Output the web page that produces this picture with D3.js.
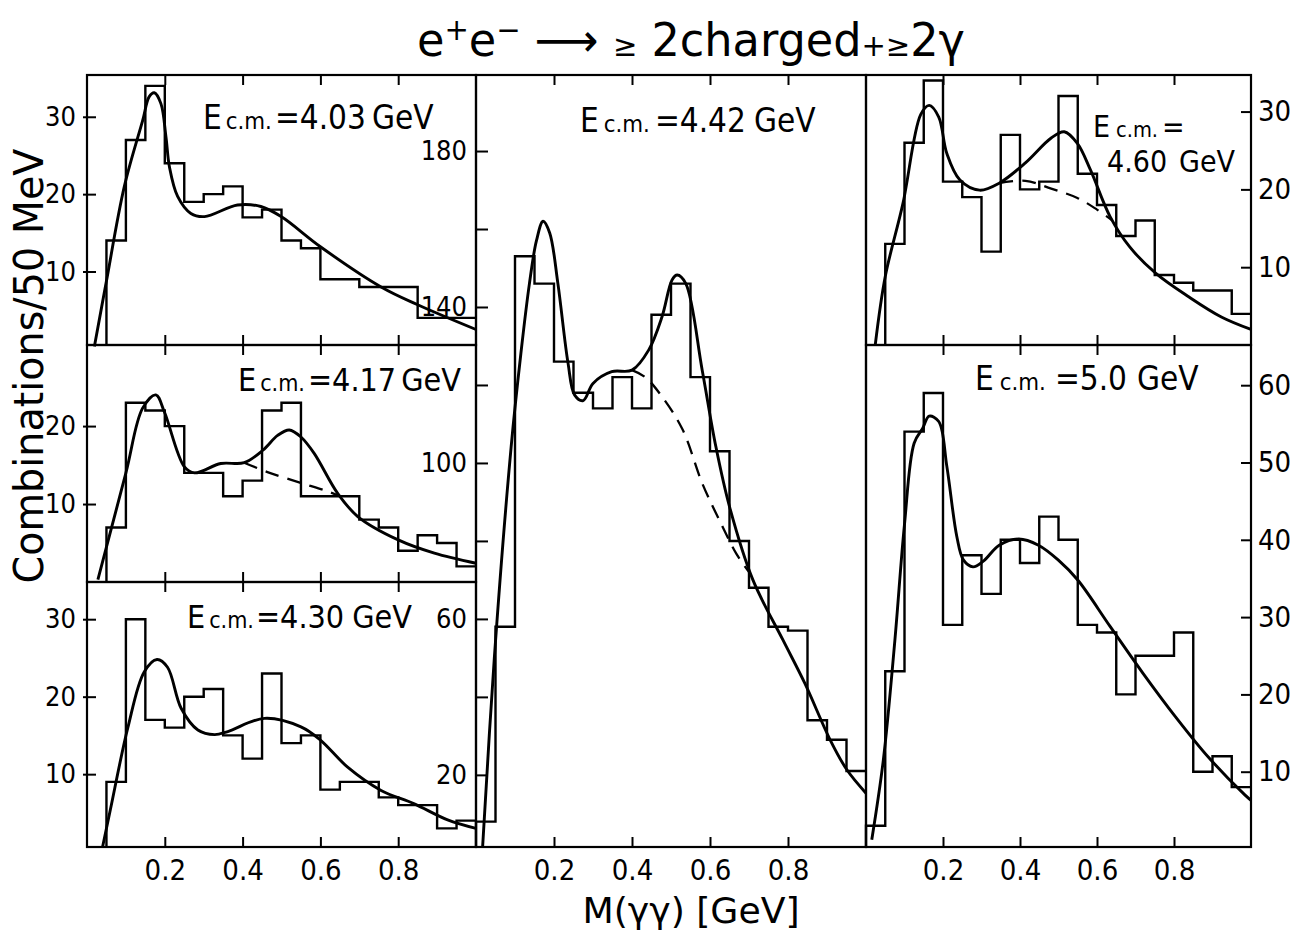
<!DOCTYPE html>
<html>
<head>
<meta charset="utf-8">
<script src="https://cdn.jsdelivr.net/npm/d3@7"></script>
<style>
  body { margin: 0; background: #fff; }
  svg text { font-family: "DejaVu Sans Condensed", "DejaVu Sans", sans-serif; fill: #000; }
</style>
</head>
<body>
<svg id="chart" width="1299" height="933"></svg>
<script>
// histogram contents (combinations / 50 MeV)
const binWidth = 0.05;
const counts403 = [14, 27, 34, 24, 19, 20, 21, 17, 18, 14, 13, 9, 9, 8, 8, 8, 4, 4, 4];
const counts417 = [7, 23, 22, 20, 14, 14, 11, 13, 22, 23, 11, 11, 11, 8, 7, 4, 6, 5, 2];
const counts430 = [9, 30, 17, 16, 20, 21, 15, 12, 23, 14, 15, 8, 9, 9, 7, 6, 6, 3, 4];
const counts442 = [8, 58, 153, 146, 126, 118, 114, 122, 114, 138, 146, 122, 103, 80, 68, 58, 57, 34, 29, 21];
const counts460 = [13, 26, 34, 21, 19, 12, 27, 20, 21, 32, 22, 18, 14, 16, 9, 8, 7, 7, 4];
const counts50  = [3, 23, 54, 59, 29, 38, 33, 40, 37, 43, 40, 29, 28, 20, 25, 25, 28, 10, 12, 8];

// fitted curves [M(gg) GeV, counts]
const fit403 = [[0.019,0.3],[0.049,8.5],[0.096,21],[0.143,29.5],[0.16,32.6],[0.173,33.1],[0.19,31.7],[0.203,27.4],[0.212,23.5],[0.233,19.7],[0.267,17.5],[0.302,17.1],[0.387,18.6],[0.447,18.4],[0.499,17.1],[0.6,13.2],[0.756,8.0],[0.85,5.7],[1.0,2.5]];
const fit417 = [[0.028,0.3],[0.10,14],[0.143,22.3],[0.177,24],[0.199,21.8],[0.25,14.8],[0.276,14.0],[0.344,15.2],[0.404,15.3],[0.452,16.9],[0.49,18.8],[0.52,19.5],[0.55,18.6],[0.584,16.5],[0.644,11.4],[0.696,8.4],[0.80,5.4],[0.893,3.7],[1.0,2.4]];
const bg417  = [[0.404,15.3],[0.464,14.1],[0.55,12.7],[0.62,11.6],[0.655,10.9]];
const fit430 = [[0.04,0.6],[0.06,5.4],[0.105,16],[0.147,23.2],[0.18,24.8],[0.207,23.8],[0.242,18.5],[0.285,15.7],[0.328,15.1],[0.362,15.5],[0.456,17.2],[0.55,16.1],[0.60,14.4],[0.67,10.9],[0.756,7.9],[0.84,6.2],[0.927,4.1],[1.0,3]];
const fit442 = [[0.017,1.6],[0.047,50],[0.09,104],[0.115,128],[0.137,146],[0.155,157],[0.172,162],[0.189,159],[0.21,146],[0.236,125.6],[0.253,117.4],[0.275,116],[0.30,120.4],[0.348,123.4],[0.40,123.8],[0.443,129],[0.477,137.5],[0.503,147],[0.516,148.2],[0.538,146],[0.58,123.8],[0.615,104.2],[0.65,88.8],[0.71,70],[0.787,54.6],[0.843,43.5],[0.908,29],[0.951,21.3],[1.0,15.3]];
const bg442  = [[0.40,123.8],[0.434,122],[0.477,117],[0.53,108.5],[0.58,94.8],[0.628,84.5],[0.667,76.8],[0.70,72]];
const fit460 = [[0.024,0],[0.05,8.8],[0.096,18.2],[0.142,29.6],[0.164,30.8],[0.189,29.3],[0.21,24.6],[0.244,21.2],[0.295,19.9],[0.346,20.8],[0.414,23.4],[0.481,26.6],[0.515,27.4],[0.549,25.9],[0.583,22.5],[0.634,16.5],[0.685,12.6],[0.753,9.2],[0.838,6.2],[0.923,3.6],[1.0,2.0]];
const bg460  = [[0.346,20.8],[0.414,21.1],[0.481,20.1],[0.549,18.9],[0.60,17.4],[0.64,16]];
const fit50  = [[0.015,1.2],[0.045,11.5],[0.075,27],[0.10,42],[0.125,52.5],[0.147,54.4],[0.164,56],[0.189,55.3],[0.21,49.5],[0.236,40.4],[0.253,37.4],[0.278,36.5],[0.304,37.2],[0.346,39.3],[0.397,40.1],[0.448,39.3],[0.499,37.4],[0.55,34.8],[0.634,28.8],[0.72,22.7],[0.804,17.1],[0.889,11.9],[0.984,7],[1.0,6.3]];

// ticks
const massTicks = [0.2, 0.4, 0.6, 0.8];
const ticks403 = [10, 20, 30];
const ticks417 = [10, 20];
const ticks430 = [10, 20, 30];
const ticks442 = [20, 40, 60, 80, 100, 120, 140, 160, 180];
const labels442 = [20, 60, 100, 140, 180];
const ticks460 = [10, 20, 30];
const ticks50 = [10, 20, 30, 40, 50, 60];

// title pieces: text and role (base / sup / small)
const titleParts = [["e", "base"], ["+", "sup"], ["e", "base"], ["−", "sup"], [" ⟶ ", "base"],
  ["≥", "small"], [" 2charged", "base"], ["+", "small"], ["≥", "small"], ["2γ", "base"]];
const yTitle = "Combinations/50 MeV";
const xTitle = "M(γγ) [GeV]";

// layout
const panels = [
  { energy: "4.03", x0: 87, x1: 476, top: 75, bottom: 345, yDomain: [0.5, 35.4], binStart: 0.05,
    counts: counts403, fit: fit403, bg: null, ticks: ticks403, labels: ticks403, side: "left", xLabels: false,
    lab: { x: 203, y: 129, fs: 33, gap: [4, 3, 6] } },
  { energy: "4.17", x0: 87, x1: 476, top: 345, bottom: 582, yDomain: [0, 30.4], binStart: 0.05,
    counts: counts417, fit: fit417, bg: bg417, ticks: ticks417, labels: ticks417, side: "left", xLabels: false,
    lab: { x: 238, y: 391, fs: 32, gap: [4, 3, 5] } },
  { energy: "4.30", x0: 87, x1: 476, top: 582, bottom: 847, yDomain: [0.6, 34.8], binStart: 0.05,
    counts: counts430, fit: fit430, bg: null, ticks: ticks430, labels: ticks430, side: "left", xLabels: true,
    lab: { x: 187, y: 628, fs: 32, gap: [4, 2, 8] } },
  { energy: "4.42", x0: 476, x1: 866, top: 75, bottom: 847, yDomain: [1.5, 199.5], binStart: 0,
    counts: counts442, fit: fit442, bg: bg442, ticks: ticks442, labels: labels442, side: "mid", xLabels: true,
    lab: { x: 580, y: 132, fs: 33, gap: [5, 5, 8] } },
  { energy: "4.60", x0: 866, x1: 1251, top: 75, bottom: 345, yDomain: [0, 34.7], binStart: 0.05,
    counts: counts460, fit: fit460, bg: bg460, ticks: ticks460, labels: ticks460, side: "right", xLabels: false,
    lab: { x: 1093, y: 137, fs: 30, gap: [6, 4, 12], x2: 1107, y2: 172 } },
  { energy: "5.0", x0: 866, x1: 1251, top: 345, bottom: 847, yDomain: [0.26, 65.2], binStart: 0,
    counts: counts50, fit: fit50, bg: null, ticks: ticks50, labels: ticks50, side: "right", xLabels: true,
    lab: { x: 975, y: 390, fs: 33, gap: [6, 9, 10] } }
];

const svg = d3.select("#chart");
svg.append("rect").attr("width", 1299).attr("height", 933).attr("fill", "#fff");

function styleAxis(g, size) {
  g.select(".domain").remove();
  g.attr("font-family", null).attr("font-size", null);
  g.selectAll("line").attr("stroke", "#000").attr("stroke-width", 2);
  g.selectAll("text").attr("font-size", size);
  g.selectAll("text").filter(function () { return this.textContent === ""; }).remove();
}

panels.forEach(p => {
  const x = d3.scaleLinear().domain([0, 1]).range([p.x0, p.x1]);
  const y = d3.scaleLinear().domain(p.yDomain).range([p.bottom, p.top]);
  const g = svg.append("g");

  // frame
  g.append("rect")
    .attr("x", p.x0).attr("y", p.top)
    .attr("width", p.x1 - p.x0).attr("height", p.bottom - p.top)
    .attr("fill", "none").attr("stroke", "#000").attr("stroke-width", 2.2);

  // mass ticks, inward at top and bottom
  g.append("g")
    .attr("transform", `translate(0,${p.top})`)
    .call(d3.axisTop(x).tickValues(massTicks).tickSize(-10).tickFormat(""))
    .call(styleAxis, 28);
  g.append("g")
    .attr("transform", `translate(0,${p.bottom})`)
    .call(d3.axisBottom(x).tickValues(massTicks).tickSize(-10).tickPadding(12)
      .tickFormat(p.xLabels ? d3.format(".1f") : ""))
    .call(styleAxis, 29);

  // count axis
  if (p.side === "right") {
    g.append("g")
      .attr("transform", `translate(${p.x1},0)`)
      .call(d3.axisRight(y).tickValues(p.ticks).tickSize(-10).tickPadding(7))
      .call(styleAxis, 29);
  } else {
    const ax = g.append("g")
      .attr("transform", `translate(${p.x0},0)`)
      .call(d3.axisLeft(y).tickValues(p.ticks).tickSize(p.side === "mid" ? -12 : -9)
        .tickPadding(p.side === "mid" ? 9 : 11)
        .tickFormat(d => p.labels.includes(d) ? d : ""))
      .call(styleAxis, 27);
    if (p.side === "left") ax.selectAll("line").attr("x1", -4);
  }

  // histogram outline
  const pts = [[p.binStart, p.yDomain[0]]];
  p.counts.forEach((c, i) => pts.push([p.binStart + i * binWidth, c]));
  pts.push([p.binStart + p.counts.length * binWidth, p.counts[p.counts.length - 1]]);
  const step = d3.line().x(d => x(d[0])).y(d => y(d[1])).curve(d3.curveStepAfter);
  g.append("path").attr("d", step(pts))
    .attr("fill", "none").attr("stroke", "#000").attr("stroke-width", 2.4);

  // fits
  const smooth = d3.line().x(d => x(d[0])).y(d => y(d[1])).curve(d3.curveCatmullRom.alpha(0.5));
  g.append("path").attr("d", smooth(p.fit))
    .attr("fill", "none").attr("stroke", "#000").attr("stroke-width", 2.9);
  if (p.bg) {
    g.append("path").attr("d", smooth(p.bg))
      .attr("fill", "none").attr("stroke", "#000").attr("stroke-width", 2.3)
      .attr("stroke-dasharray", "14,9");
  }

  // energy label (4.60 is split over two lines)
  const l = p.lab;
  const t = g.append("text").attr("x", l.x).attr("y", l.y).attr("font-size", l.fs);
  t.append("tspan").text("E");
  t.append("tspan").attr("dx", l.gap[0]).attr("font-size", l.fs * 0.72).text("c.m.");
  if (l.x2) {
    t.append("tspan").attr("dx", l.gap[1]).text("=");
    const t2 = g.append("text").attr("x", l.x2).attr("y", l.y2).attr("font-size", l.fs);
    t2.append("tspan").text(p.energy);
    t2.append("tspan").attr("dx", l.gap[2]).text("GeV");
  } else {
    t.append("tspan").attr("dx", l.gap[1]).text("=" + p.energy);
    t.append("tspan").attr("dx", l.gap[2]).text("GeV");
  }
});

// title
const tt = svg.append("text").attr("x", 417).attr("y", 56).attr("font-size", 46)
  .attr("textLength", 548).attr("lengthAdjust", "spacingAndGlyphs");
let lifted = false;
titleParts.forEach(([s, role]) => {
  const span = tt.append("tspan").text(s);
  if (role === "sup") { span.attr("font-size", 30).attr("dy", lifted ? 0 : -16); lifted = true; }
  else {
    if (lifted) { span.attr("dy", 16); lifted = false; }
    if (role === "small") span.attr("font-size", 30);
  }
});

// axis titles
svg.append("text")
  .attr("transform", "translate(43,366) rotate(-90)")
  .attr("text-anchor", "middle").attr("font-size", 41)
  .attr("textLength", 435).attr("lengthAdjust", "spacingAndGlyphs")
  .text(yTitle);
svg.append("text")
  .attr("x", 691).attr("y", 923)
  .attr("text-anchor", "middle").attr("font-size", 36)
  .attr("textLength", 217).attr("lengthAdjust", "spacingAndGlyphs")
  .text(xTitle);
</script>
</body>
</html>
